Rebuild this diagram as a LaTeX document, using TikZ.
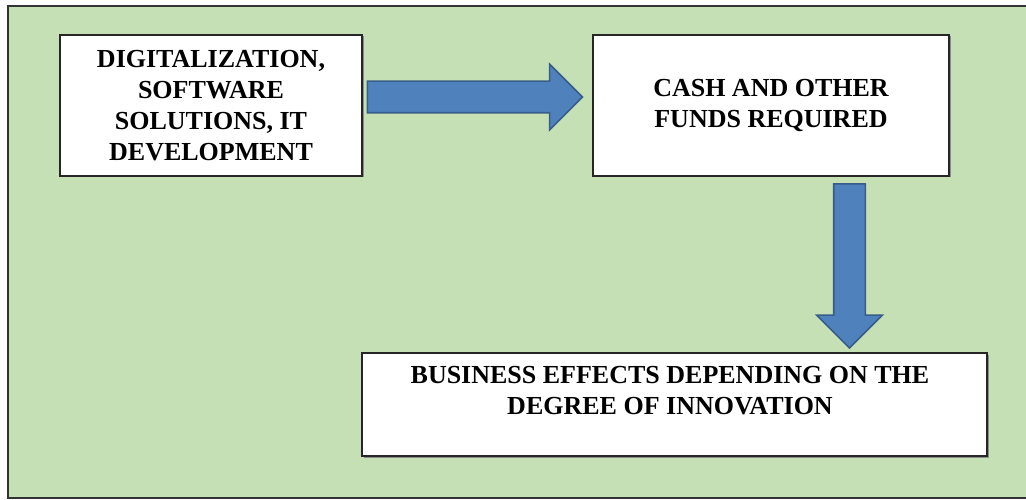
\documentclass[tikz,border=0pt]{standalone}
\usepackage{fontspec}
\setmainfont{Liberation Serif}
\usetikzlibrary{shapes.arrows,shadows}
\definecolor{panelgreen}{HTML}{C5E0B4}
\definecolor{arrowblue}{HTML}{4F81BD}
\definecolor{arrowedge}{HTML}{385D8A}

\begin{document}
\begin{tikzpicture}[line join=miter,x=1pt,y=-1pt,
  box/.style={draw=black!85,line width=1.8pt,fill=white,align=center,inner sep=0pt,
    font=\bfseries\fontsize{26}{31}\selectfont,
    drop shadow={shadow xshift=1.5pt,shadow yshift=-1.5pt,fill=black!45,opacity=1}},
  boxtext/.style={align=center,inner sep=0pt,font=\bfseries\fontsize{26}{31}\selectfont},
  blockarrow/.style={single arrow,draw=arrowedge,line width=1.6pt,fill=arrowblue,
    minimum width=64pt,single arrow head extend=17pt,single arrow head indent=0pt,inner sep=15pt}]
\useasboundingbox (0,0) rectangle (1026,500);
% green panel
\draw [line width=1.8pt,draw=black!80,fill=panelgreen] (8,6) rectangle (1040,498);
% boxes
\node[box,minimum width=302pt,minimum height=141pt] (digital) at (211,105.5) {DIGITALIZATION,\\SOFTWARE\\SOLUTIONS, IT\\DEVELOPMENT};
\node[box,minimum width=356pt,minimum height=141pt] (cash) at (771,105.5) {CASH AND OTHER\\FUNDS REQUIRED};
\node[box,minimum width=625pt,minimum height=103pt] (effects) at (674.5,404.5) {};
\node[boxtext] (effectstext) at (670,391) {BUSINESS EFFECTS DEPENDING ON THE\\DEGREE OF INNOVATION};
% block arrows
\node[blockarrow,minimum height=215pt] (toCash) at (467,97) {};
\node[blockarrow,minimum width=63pt,minimum height=164pt,shape border rotate=270] (toEffects) at (849.5,258) {};
\end{tikzpicture}
\end{document}
